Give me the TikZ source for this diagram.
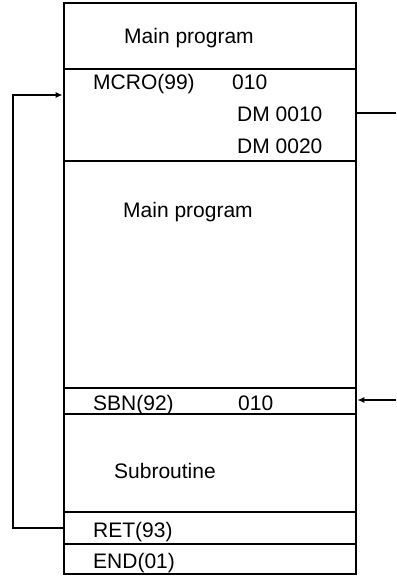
\documentclass[tikz,border=0pt]{standalone}
\usepackage{fontspec}
\setmainfont{Liberation Sans}
\usetikzlibrary{arrows.meta}
\tikzset{
  row/.style={draw, line width=2.6pt, minimum width=292pt, inner sep=0pt},
  txt/.style={anchor=base west, inner sep=0pt, font=\fontsize{21}{25}\selectfont},
  link/.style={line width=2.2pt},
  tip/.style={-{Latex[length=7pt,width=6pt]}},
}
\begin{document}
\begin{tikzpicture}[x=1pt,y=-1pt]
  \useasboundingbox (0,0) rectangle (396,577);
  % program rows
  \node[row, minimum height=66pt] (main1) at (210,36) {};
  \node[row, minimum height=92pt] (mcro) at (210,115) {};
  \node[row, minimum height=227pt] (main2) at (210,274.5) {};
  \node[row, minimum height=26pt] (sbn) at (210,401) {};
  \node[row, minimum height=98pt] (sub) at (210,463) {};
  \node[row, minimum height=32pt] (ret) at (210,528) {};
  \node[row, minimum height=30pt] (end) at (210,559) {};
  % texts
  \node[txt] (tmain1) at (124,44) {Main program};
  \node[txt] (tmcro) at (93,90) {MCRO(99)};
  \node[txt] (tmcroa) at (232,90) {010};
  \node[txt] (tdma) at (237,122) {DM 0010};
  \node[txt] (tdmb) at (237,154) {DM 0020};
  \node[txt] (tmain2) at (123,217) {Main program};
  \node[txt] (tsbn) at (93,410) {SBN(92)};
  \node[txt] (tsbna) at (238,410) {010};
  \node[txt] (tsub) at (114,478) {Subroutine};
  \node[txt] (tret) at (93,537) {RET(93)};
  \node[txt] (tend) at (93,568) {END(01)};
  % connectors
  \coordinate (loopL) at (13,95);
  \coordinate (outR) at (396,113);
  \coordinate (inR) at (396,400);
  \draw[link, tip] (ret.west) -| (loopL) -- (mcro.west |- loopL);
  \draw[link] (mcro.east |- outR) -- (outR);
  \draw[link, tip] (inR) -- (sbn.east |- inR);
\end{tikzpicture}
\end{document}
